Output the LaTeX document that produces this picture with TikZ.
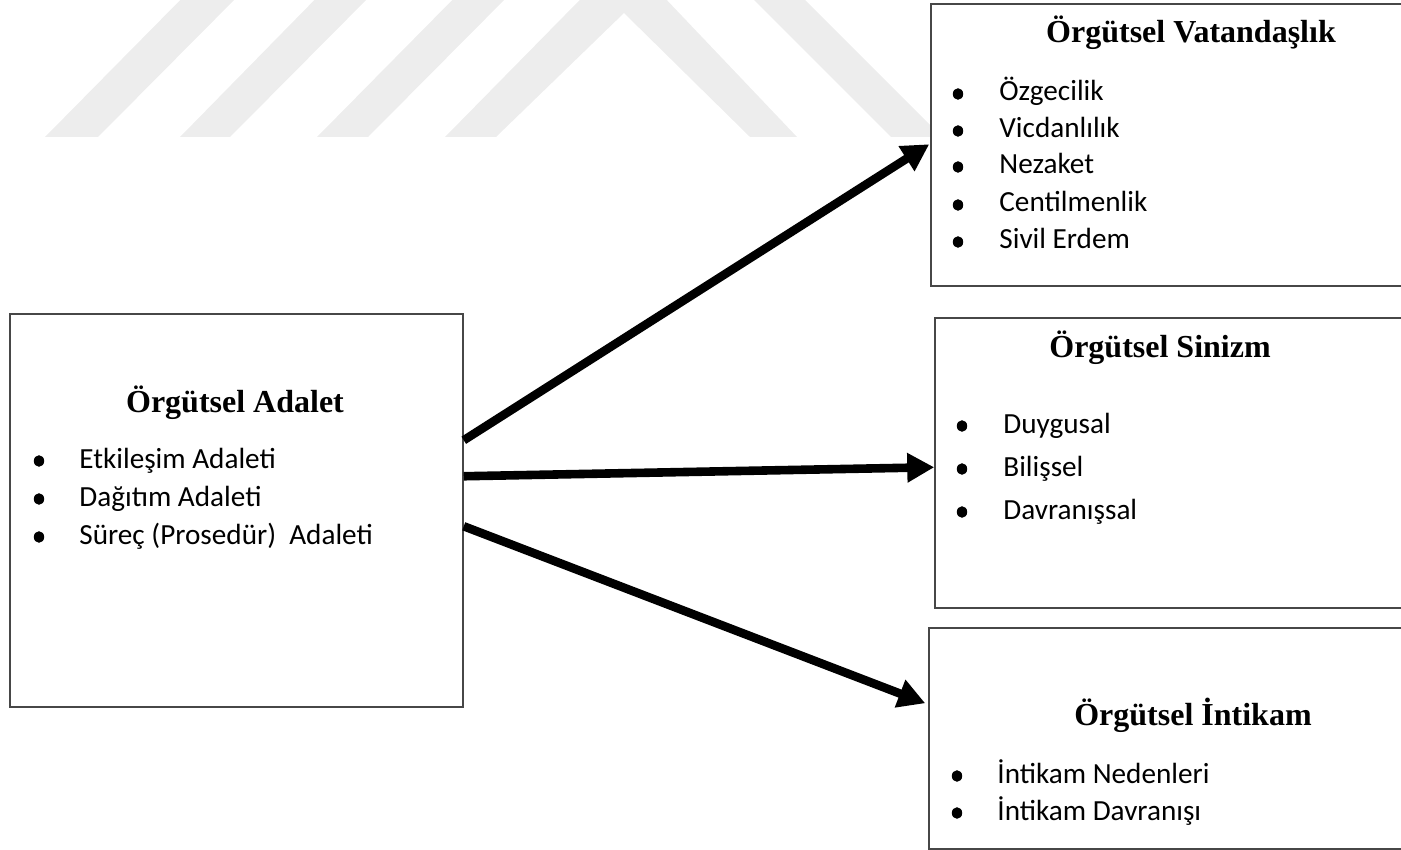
\documentclass[tikz,border=0pt]{standalone}
\usepackage{fontspec}
\setmainfont{Liberation Serif}
\newfontfamily\bodyfont{Carlito}
\usetikzlibrary{arrows.meta,fit,shapes.geometric}
\begin{document}
\begin{tikzpicture}[x=0.5pt,y=-0.5pt,
  box/.style={draw=black!72, line width=0.75pt, fill=white, inner sep=0pt},
  heading/.style={anchor=base, inner sep=0pt, font=\fontsize{16}{19}\selectfont\bfseries},
  item/.style={anchor=base west, inner sep=0pt, font=\bodyfont\fontsize{14.6}{17}\selectfont},
  dot/.style={ellipse, fill=black, inner sep=0pt, minimum width=5.2pt, minimum height=5.8pt},
  link/.style={line width=4.3pt, -{Triangle[length=13.5pt,width=14pt]}},
  wmark/.style={fill=black!7, draw=none}]

\useasboundingbox (0,0) rectangle (1401,850);
\clip (0,0) rectangle (1401,850);

% faint background stripes
\fill[wmark] (45,137) -- (200,-20) -- (254,-20) -- (98,137) -- cycle;
\fill[wmark] (180,137) -- (334,-20) -- (386,-20) -- (230,137) -- cycle;
\fill[wmark] (317,137) -- (472,-20) -- (524,-20) -- (368,137) -- cycle;
\fill[wmark] (445,137) -- (624,-45) -- (797,137) -- (750,137) -- (624,13) -- (496,137) -- cycle;
\fill[wmark] (734,-20) -- (785,-20) -- (942,137) -- (891,137) -- cycle;

% boxes
\node[box, fit={(10,314) (463,707)}] (adalet) {};
\node[box, fit={(931,4) (1420,286)}] (vat) {};
\node[box, fit={(935,318) (1420,608)}] (sin) {};
\node[box, fit={(929,628) (1420,849)}] (int) {};

% Örgütsel Adalet
\node[heading] (adaletT) at (235,412) {Örgütsel Adalet};
\foreach \t/\b [count=\i] in {Etkileşim Adaleti/468, Dağıtım Adaleti/506, Süreç (Prosedür)\ \ Adaleti/544} {
  \node[dot] (ab\i) at (39,\b-7) {};
  \node[item] (at\i) at (79,\b) {\t};
}

% Örgütsel Vatandaşlık
\node[heading] (vatT) at (1191,43) {Örgütsel Vatandaşlık};
\foreach \t/\b [count=\i] in {Özgecilik/101, Vicdanlılık/138, Nezaket/174, Centilmenlik/212, Sivil Erdem/249} {
  \node[dot] (vb\i) at (958,\b-7) {};
  \node[item] (vt\i) at (999,\b) {\t};
}

% Örgütsel Sinizm
\node[heading] (sinT) at (1160,357) {Örgütsel Sinizm};
\foreach \t/\b [count=\i] in {Duygusal/433, Bilişsel/476, Davranışsal/519} {
  \node[dot] (sb\i) at (962,\b-7) {};
  \node[item] (st\i) at (1003,\b) {\t};
}

% Örgütsel İntikam
\node[heading] (intT) at (1193,725) {Örgütsel İntikam};
\foreach \t/\b [count=\i] in {İntikam Nedenleri/783, İntikam Davranışı/820} {
  \node[dot] (ib\i) at (957,\b-7) {};
  \node[item] (it\i) at (997,\b) {\t};
}

% connectors
\draw[link] ([shift={(0,127)}]adalet.north east) -- ([shift={(-1,141)}]vat.north west);
\draw[link] ([shift={(0,163)}]adalet.north east) -- ([shift={(0,150)}]sin.north west);
\draw[link] ([shift={(0,213)}]adalet.north east) -- ([shift={(-3,76)}]int.north west);
\end{tikzpicture}
\end{document}
